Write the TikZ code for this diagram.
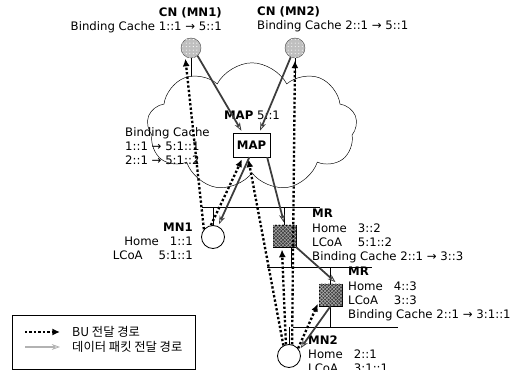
\documentclass[tikz,border=0pt]{standalone}
\usepackage{fontspec}
\setmainfont{DejaVu Sans}
\newfontfamily\kofont{Noto Sans CJK KR}
\usetikzlibrary{shapes.symbols,arrows.meta,patterns}
\definecolor{pktgray}{RGB}{60,60,60}
\newcommand{\addr}[2]{\makebox[39pt][l]{#1}#2}

\begin{document}
\begin{tikzpicture}[x=0.03cm, y=-0.03cm,
    host/.style={circle, draw, line width=0.7pt, minimum size=0.69cm, inner sep=0pt},
    cnhost/.style={circle, draw=gray!60!black, fill=gray!50, minimum size=0.6cm, inner sep=0pt,
        postaction={pattern=dots, pattern color=white}},
    router/.style={rectangle, draw, fill=black!75, minimum width=0.69cm, minimum height=0.66cm, inner sep=0pt,
        postaction={pattern=crosshatch, pattern color=gray!60}},
    lan/.style={line width=0.7pt},
    bu/.style={line width=2pt, dash pattern=on 2pt off 1.8pt, -{Latex[length=6.5pt,width=6pt]}, shorten >=2pt},
    pkt/.style={line width=1.5pt, draw=pktgray, -{Stealth[fill=gray!25, length=7pt, width=5pt, line width=0.6pt]}, shorten >=2pt},
    info/.style={align=left, inner sep=0pt, anchor=west}]
    \useasboundingbox (0,0) rectangle (521,370);

    % correspondent nodes and the core network
    \coordinate (net-c) at (252,127);
    \node[cnhost] (cn1) at (191,48) {};
    \node[cnhost] (cn2) at (295,48) {};
    \draw (cn1.south) -- (cn1.south |- net-c);
    \draw (cn2.south) -- (cn2.south |- net-c);
    \node[cloud, cloud puffs=9, cloud puff arc=125, aspect=1.66, draw, fill=white,
          minimum width=6.3cm, minimum height=3.85cm] (net) at (net-c) {};

    \node[anchor=east, inner sep=0pt] (cn1-name) at (222,13) {\textbf{CN (MN1)}};
    \node[anchor=east, inner sep=0pt] (cn1-bc) at (222,27) {Binding Cache 1::1 → 5::1};
    \node[info] (cn2-name) at (257,12) {\textbf{CN (MN2)}};
    \node[info] (cn2-bc) at (257,26) {Binding Cache 2::1 → 5::1};

    % MAP
    \node[draw, fill=white, minimum width=1.11cm, minimum height=0.72cm] (map) at (251.5,145) {\textbf{MAP}};
    \node (map-lbl) at (252,115) {\textbf{MAP} 5::1};
    \node[info] (map-bc) at (125,146) {Binding Cache\\1::1 → 5:1::1\\2::1 → 5:1::2};

    % access links
    \foreach \n/\xa/\xb/\yy in {A/202/320/207, B/267/372/267, C/293/398/327} {
        \coordinate (lan\n-w) at (\xa,\yy);
        \coordinate (lan\n-e) at (\xb,\yy);
        \draw[lan] (lan\n-w) -- (lan\n-e);
    }

    % mobile nodes and routers
    \node[host] (mn1) at (213,237) {};
    \node[router] (mr1) at (284.5,236) {};
    \node[router] (mr2) at (330.5,295) {};
    \node[host] (mn2) at (289,356) {};
    \draw[lan] (mn1.north) -- (mn1.north |- lanA-w);
    \draw[lan] (mr1.north) -- (mr1.north |- lanA-w);
    \draw[lan] (mr1.-60) -- (mr1.-60 |- lanB-w);
    \draw[lan] (mr2.north) -- (mr2.north |- lanB-w);
    \draw[lan] (mr2.south) -- (mr2.south |- lanC-w);
    \draw[lan] (mn2.north) -- (mn2.north |- lanC-w);

    \node[info, anchor=east, align=right] (mn1-info) at (193,241) {\textbf{MN1}\\\addr{Home}{1::1}\\\addr{LCoA}{5:1::1}};
    \node[info] (mr1-info) at (312,236) {\textbf{MR}\\\addr{Home}{3::2}\\\addr{LCoA}{5:1::2}\\Binding Cache 2::1 → 3::3};
    \node[info] (mr2-info) at (348,294) {\textbf{MR}\\\addr{Home}{4::3}\\\addr{LCoA}{3::3}\\Binding Cache 2::1 → 3:1::1};
    \node[info] (mn2-info) at (308,354) {\textbf{MN2}\\\addr{Home}{2::1}\\\addr{LCoA}{3:1::1}};

    % binding updates
    \foreach \s/\t in {mn1.140/cn1.-125, mn1.100/map.-125, mn2.118/map.-106, mn2.105/mr1.-103, mn2.75/cn2.-90, mn2.40/mr2.-150}
        \draw[bu] (\s) -- (\t);

    % data packets
    \foreach \s/\t in {cn1.-50/map.126, cn2.-115/map.58, map.-100/mn1.65, map.-38/mr1.north, mr1.south east/mr2.59, mr2.south/mn2.30}
        \draw[pkt] (\s) -- (\t);

    % legend
    \draw[line width=0.8pt] (12,315) rectangle (195,369);
    \coordinate (lg-bu-a) at (25,332);
    \coordinate (lg-bu-b) at (60,332);
    \coordinate (lg-pk-a) at (25,347);
    \coordinate (lg-pk-b) at (60,347);
    \draw[bu, shorten >=0pt] (lg-bu-a) -- (lg-bu-b);
    \draw[pkt, draw=gray!60, shorten >=0pt] (lg-pk-a) -- (lg-pk-b);
    \node[info] (lg-bu) at (72,332) {\kofont\fontsize{10.5}{12}\selectfont BU 전달 경로};
    \node[info] (lg-pk) at (72,347) {\kofont\fontsize{10.5}{12}\selectfont 데이터 패킷 전달 경로};
\end{tikzpicture}
\end{document}
